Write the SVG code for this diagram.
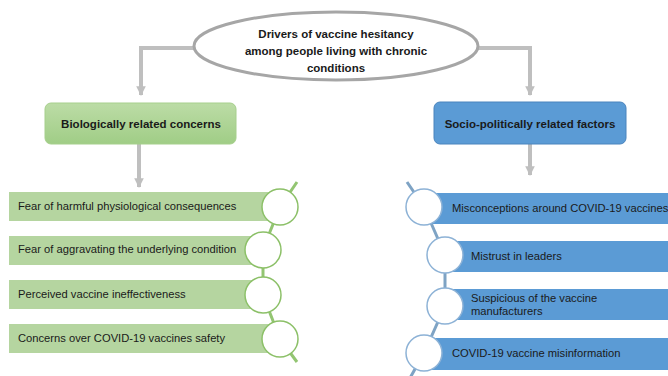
<svg xmlns="http://www.w3.org/2000/svg" width="668" height="376" viewBox="0 0 668 376">
<defs>
<marker id="ah" viewBox="0 0 10 10" refX="9" refY="5" markerWidth="2.6" markerHeight="2.4" orient="auto" markerUnits="strokeWidth">
<path d="M0,0 L10,5 L0,10 z" fill="#bfbfbf"/>
</marker>
<linearGradient id="gg" x1="0" y1="0" x2="0" y2="1">
<stop offset="0" stop-color="#bcdca6"/>
<stop offset="1" stop-color="#a0cd86"/>
</linearGradient>
</defs>
<style>
.conn{fill:none;stroke:#bfbfbf;stroke-width:4}
.t{font-family:"Liberation Sans",Arial,sans-serif;font-size:11.2px;fill:#1a1a1a}
.h{font-family:"Liberation Sans",Arial,sans-serif;font-size:11.5px;font-weight:bold;fill:#1a1a1a;text-anchor:middle}
.gb{fill:#b5d5a0}
.bb{fill:#5b9bd5}
.gc{fill:#fff;stroke:#8cc068;stroke-width:1.5}
.bc{fill:#fff;stroke:#8db2d6;stroke-width:1.5}
.gl{fill:none;stroke:#93c572;stroke-width:3}
.bl{fill:none;stroke:#7ea3c4;stroke-width:3}
</style>
<g id="connectors">
<path class="conn" d="M194,48 H141 V95" marker-end="url(#ah)"/>
<path class="conn" d="M478,48 H530 V95" marker-end="url(#ah)"/>
<path class="conn" d="M139,144 V187" marker-end="url(#ah)"/>
<path class="conn" d="M530,144 V175" marker-end="url(#ah)"/>
</g>
<g id="root">
<ellipse cx="336" cy="46" rx="142" ry="34" fill="#fff" stroke="#a6a6a6" stroke-width="3"/>
<text class="h" x="336" y="38">Drivers of vaccine hesitancy</text>
<text class="h" x="336" y="55">among people living with chronic</text>
<text class="h" x="336" y="72">conditions</text>
</g>
<g id="bio">
<rect x="45" y="103" width="191" height="41" rx="6" fill="url(#gg)" stroke="#a6cf8c" stroke-width="1"/>
<text class="h" x="141" y="128">Biologically related concerns</text>
</g>
<g id="socio">
<rect x="434" y="102" width="192" height="42" rx="6" fill="#5b9bd5" stroke="#4a84bd" stroke-width="1"/>
<text class="h" x="530" y="128">Socio-politically related factors</text>
</g>
<g id="bio-list">
<polyline class="gl" points="297,182 280,207 263,249 263,295 280,339 297,362"/>
<g id="b1"><rect class="gb" x="9" y="192" width="271" height="29"/><circle class="gc" cx="280" cy="207" r="18"/><text class="t" x="18" y="210">Fear of harmful physiological consequences</text></g>
<g id="b2"><rect class="gb" x="9" y="236" width="254" height="29"/><circle class="gc" cx="263" cy="250" r="18"/><text class="t" x="18" y="253">Fear of aggravating the underlying condition</text></g>
<g id="b3"><rect class="gb" x="9" y="280" width="254" height="29"/><circle class="gc" cx="263" cy="295" r="18"/><text class="t" x="18" y="298">Perceived vaccine ineffectiveness</text></g>
<g id="b4"><rect class="gb" x="9" y="324" width="271" height="29"/><circle class="gc" cx="280" cy="339" r="18"/><text class="t" x="18" y="342">Concerns over COVID-19 vaccines safety</text></g>
</g>
<g id="socio-list">
<polyline class="bl" points="407,182 424,207 445,255 445,306 424,353 410,378"/>
<g id="s1"><rect class="bb" x="424" y="193" width="244" height="31"/><circle class="bc" cx="424" cy="207" r="18"/><text class="t" x="452" y="212">Misconceptions around COVID-19 vaccines</text></g>
<g id="s2"><rect class="bb" x="445" y="241" width="223" height="31"/><circle class="bc" cx="445" cy="255" r="18"/><text class="t" x="471" y="260">Mistrust in leaders</text></g>
<g id="s3"><rect class="bb" x="445" y="289" width="223" height="31"/><circle class="bc" cx="445" cy="306" r="18"/><text class="t" x="471" y="302">Suspicious of the vaccine</text><text class="t" x="471" y="315">manufacturers</text></g>
<g id="s4"><rect class="bb" x="424" y="338" width="244" height="32"/><circle class="bc" cx="424" cy="353" r="18"/><text class="t" x="452" y="357">COVID-19 vaccine misinformation</text></g>
</g>
</svg>
